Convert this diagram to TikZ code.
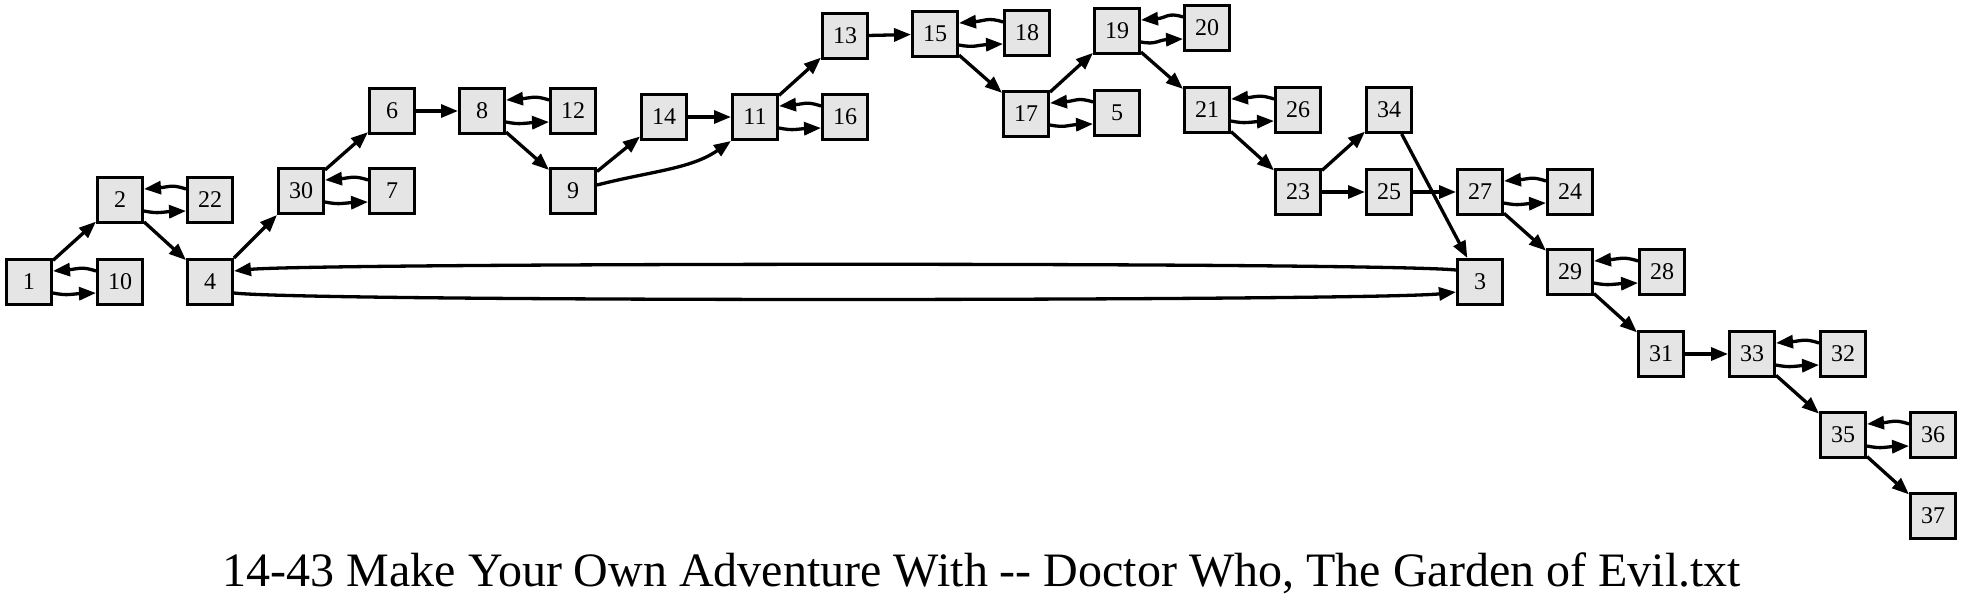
\documentclass[tikz,border=0pt]{standalone}
\usepackage{fontspec}
\setmainfont{Liberation Serif}
\usetikzlibrary{arrows.meta,calc}
\definecolor{boxfill}{HTML}{E5E5E5}
\tikzset{
  box/.style={draw=black, line width=2.6pt, fill=boxfill, minimum size=45.4pt, inner sep=0pt, font=\fontsize{24}{24}\selectfont},
  edge/.style={line width=3.3pt, -{Triangle[length=17pt,width=13pt]}},
}
\newcommand\pairlink[2]{%
  \draw[edge] ($(#1.east)+(0,11)$) .. controls +(15,3) and +(-25,1) .. ($(#2.west)+(0,11)$);
  \draw[edge] ($(#2.west)+(0,-11)$) .. controls +(-15,-5) and +(25,-2) .. ($(#1.east)+(0,-11)$);
}
\begin{document}
\begin{tikzpicture}[x=1pt,y=-1pt]
\useasboundingbox (0,0) rectangle (1963,605);
\node[box] (n1) at (29,282) {1};
\node[box] (n10) at (120,282) {10};
\node[box] (n2) at (120,200) {2};
\node[box] (n22) at (210,200) {22};
\node[box] (n4) at (210,282) {4};
\node[box] (n30) at (301,191) {30};
\node[box] (n7) at (392,191) {7};
\node[box] (n6) at (392,111) {6};
\node[box] (n8) at (482,111) {8};
\node[box] (n12) at (573,111) {12};
\node[box] (n9) at (573,191) {9};
\node[box] (n14) at (664,117) {14};
\node[box] (n11) at (755,117) {11};
\node[box] (n16) at (845,117) {16};
\node[box] (n13) at (845,36) {13};
\node[box] (n15) at (935,34) {15};
\node[box] (n18) at (1027,33) {18};
\node[box] (n17) at (1026,114) {17};
\node[box] (n5) at (1117,113) {5};
\node[box] (n19) at (1117,31) {19};
\node[box] (n20) at (1207,28) {20};
\node[box] (n21) at (1207,110) {21};
\node[box] (n26) at (1298,110) {26};
\node[box] (n34) at (1389,110) {34};
\node[box] (n23) at (1298,192) {23};
\node[box] (n25) at (1389,192) {25};
\node[box] (n27) at (1480,192) {27};
\node[box] (n24) at (1570,192) {24};
\node[box] (n3) at (1480,282) {3};
\node[box] (n29) at (1570,272) {29};
\node[box] (n28) at (1662,272) {28};
\node[box] (n31) at (1661,354) {31};
\node[box] (n33) at (1752,354) {33};
\node[box] (n32) at (1843,354) {32};
\node[box] (n35) at (1843,435) {35};
\node[box] (n36) at (1933,435) {36};
\node[box] (n37) at (1933,516) {37};
\node[font=\fontsize{48}{48}\selectfont, anchor=base, inner sep=0pt] (title) at (982,586) {14-43 Make Your Own Adventure With {-}{-} Doctor Who, The Garden of Evil.txt};
% straight edges
\draw[edge] (n1) -- (n2);
\draw[edge] (n2) -- (n4);
\draw[edge] (n4) -- (n30);
\draw[edge] (n30) -- (n6);
\draw[edge] (n6) -- (n8);
\draw[edge] (n8) -- (n9);
\draw[edge] (n9) -- (n14);
\draw[edge] (n14) -- (n11);
\draw[edge] (n11) -- (n13);
\draw[edge] (n13) -- (n15);
\draw[edge] (n15) -- (n17);
\draw[edge] (n17) -- (n19);
\draw[edge] (n19) -- (n21);
\draw[edge] (n21) -- (n23);
\draw[edge] (n23) -- (n34);
\draw[edge] (n23) -- (n25);
\draw[edge] (n25) -- (n27);
\draw[edge] (n34) -- (n3);
\draw[edge] (n27) -- (n29);
\draw[edge] (n29) -- (n31);
\draw[edge] (n31) -- (n33);
\draw[edge] (n33) -- (n35);
\draw[edge] (n35) -- (n37);
% paired edges
\pairlink{n1}{n10}
\pairlink{n2}{n22}
\pairlink{n30}{n7}
\pairlink{n8}{n12}
\pairlink{n11}{n16}
\pairlink{n15}{n18}
\pairlink{n17}{n5}
\pairlink{n19}{n20}
\pairlink{n21}{n26}
\pairlink{n27}{n24}
\pairlink{n29}{n28}
\pairlink{n33}{n32}
\pairlink{n35}{n36}
% curved edges
\draw[edge] ($(n9.east)+(0,-6)$) .. controls +(55,-14) and +(-40,28) .. (n11.south west);
\draw[edge] ($(n3.west)+(0,-12)$) .. controls +(-80,-8) and +(80,-8) .. ($(n4.east)+(0,-11)$);
\draw[edge] ($(n4.east)+(0,11)$) .. controls +(80,9) and +(-80,9) .. ($(n3.west)+(0,10)$);
\end{tikzpicture}
\end{document}
